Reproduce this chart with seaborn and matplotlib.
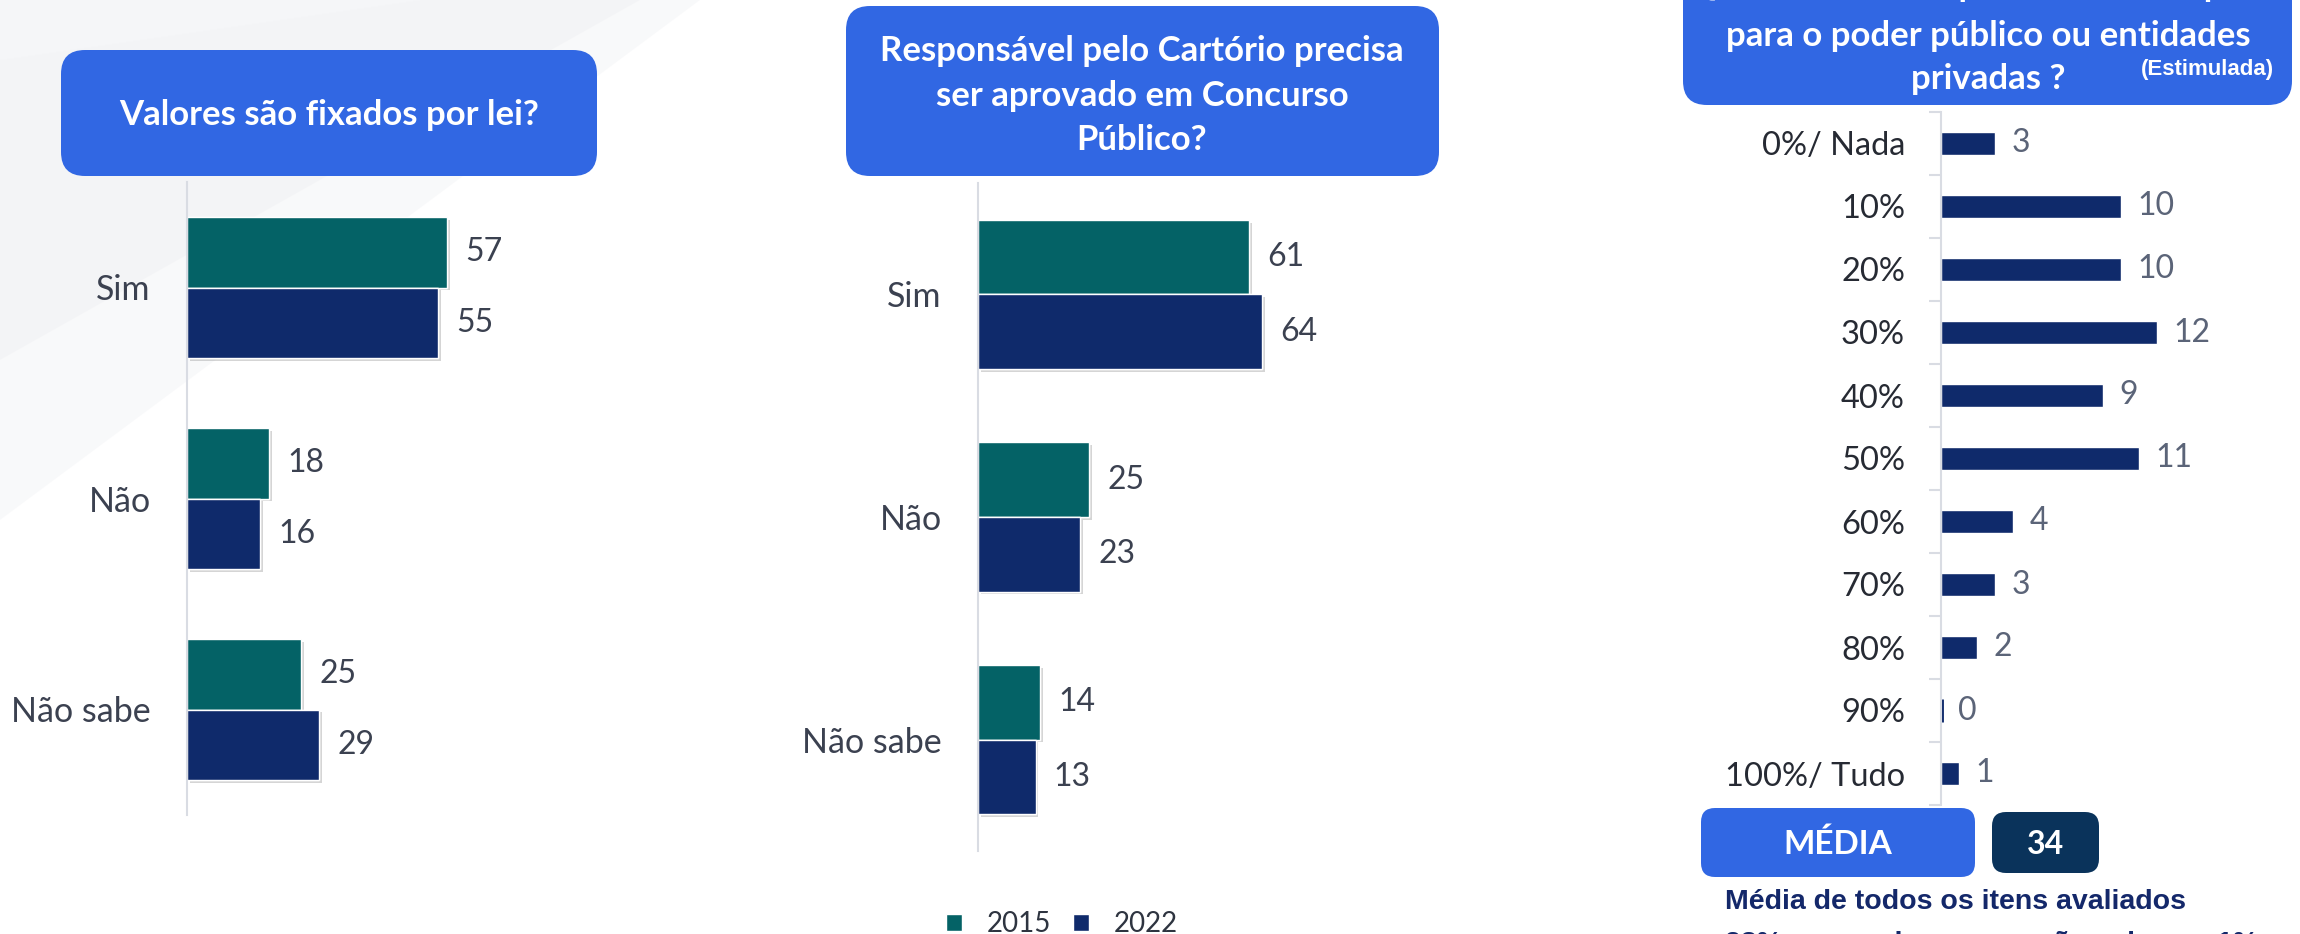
import matplotlib
matplotlib.use("Agg")
import numpy as np
import pandas as pd
import matplotlib.pyplot as plt
import matplotlib.patheffects as pe
from matplotlib.patches import FancyBboxPatch, Polygon, Patch
import seaborn as sns

# ---- data -------------------------------------------------------------
respostas = ["Sim", "Não", "Não sabe"]
anos = ["2015", "2022"]

fixados_2015 = [57, 18, 25]
fixados_2022 = [55, 16, 29]

concurso_2015 = [61, 25, 14]
concurso_2022 = [64, 23, 13]

faixas = ["0%/ Nada", "10%", "20%", "30%", "40%", "50%", "60%",
          "70%", "80%", "90%", "100%/ Tudo"]
repasse = [3, 10, 10, 12, 9, 11, 4, 3, 2, 0, 1]
media_repasse = 34

titulo_fixados = "Valores são fixados por lei?"
titulo_concurso = ["Responsável pelo Cartório precisa",
                   "ser aprovado em Concurso", "Público?"]
titulo_repasse = ["Quanto do valor que o cartório repassa",
                  "para o poder público ou entidades", "privadas ?"]
nota = ["Média de todos os itens avaliados",
        "23% responderam que não sabem e 1% outros repasses"]

# ---- style ------------------------------------------------------------
TEAL = "#046266"
NAVY = "#0F2A6B"
BLUE = "#3167E3"
DARK = "#0A335B"
AXIS = "#D9DCE3"
LABEL = "#3B4150"
NARROW = ["Liberation Sans Narrow", "Liberation Sans", "DejaVu Sans"]

sns.set_theme(style="white")
plt.rcParams["font.family"] = ["Lato", "DejaVu Sans"]

W, H = 2300, 934
fig = plt.figure(figsize=(W / 100, H / 100), dpi=100, facecolor="white")

# full-figure layer in pixel units for boxes and free text
bg = fig.add_axes([0, 0, 1, 1], zorder=0)
bg.set_xlim(0, W)
bg.set_ylim(H, 0)
bg.axis("off")

# faint decorative shapes in the upper-left corner
bg.add_patch(Polygon([(0, 0), (640, 0), (0, 360)], closed=True,
                     fc="#EEF0F3", ec="none", alpha=0.55))
bg.add_patch(Polygon([(0, 60), (420, 0), (700, 0), (0, 520)], closed=True,
                     fc="#F3F4F6", ec="none", alpha=0.5))


def box(x0, y0, x1, y1, color, r=24):
    bg.add_patch(FancyBboxPatch((x0, y0), x1 - x0, y1 - y0,
                                boxstyle=f"round,pad=0,rounding_size={r}",
                                fc=color, ec="none"))


def panel(x0, y0, x1, y1):
    ax = fig.add_axes([x0 / W, 1 - y1 / H, (x1 - x0) / W, (y1 - y0) / H],
                      zorder=2)
    ax.set_facecolor("none")
    return ax


def style_axis(ax, pad):
    sns.despine(ax=ax, left=False, bottom=True)
    ax.spines["left"].set_color(AXIS)
    ax.spines["left"].set_linewidth(1.5)
    ax.set_xticks([])
    ax.set_xlabel("")
    ax.set_ylabel("")
    ax.tick_params(axis="y", length=0, pad=pad)


def title(x, y, s, size=25):
    bg.text(x, y, s, ha="center", va="baseline", color="white",
            fontsize=size, fontweight="bold")


shadow = [pe.withSimplePatchShadow(offset=(2, -2), shadow_rgbFace="#888888",
                                   alpha=0.35), pe.Normal()]


def grouped(ax, v2015, v2022, xmax):
    df = pd.DataFrame({
        "resposta": respostas * 2,
        "ano": [anos[0]] * 3 + [anos[1]] * 3,
        "valor": v2015 + v2022,
    })
    sns.barplot(data=df, x="valor", y="resposta", hue="ano", orient="h",
                palette=[TEAL, NAVY], saturation=1, width=0.67,
                errorbar=None, legend=False, ax=ax)
    for p in ax.patches:
        p.set_path_effects(shadow)
    for c in ax.containers:
        ax.bar_label(c, padding=13, fontsize=23, color=LABEL)
    ax.set_xlim(0, xmax)
    ax.set_ylim(2.5, -0.5)
    style_axis(ax, pad=26)
    for t in ax.get_yticklabels():
        t.set_fontsize(24.5)
        t.set_color(LABEL)


# ---- panel 1: valores fixados por lei ---------------------------------
box(61, 50, 597, 176, BLUE)
title(329, 125, titulo_fixados)
ax1 = panel(187, 182, 643, 815)
grouped(ax1, fixados_2015, fixados_2022, 100)

# ---- panel 2: concurso público ----------------------------------------
box(846, 6, 1439, 176, BLUE)
for y, line in zip([61, 106, 150], titulo_concurso):
    title(1142, y, line)
ax2 = panel(978, 183, 1422, 851)
grouped(ax2, concurso_2015, concurso_2022, 100)

# ---- panel 3: repasse -------------------------------------------------
box(1683, -40, 2292, 105, BLUE)
for y, line in zip([-4, 46, 89], titulo_repasse):
    title(1988, y, line)
bg.text(2207, 75, "(Estimulada)", ha="center", va="baseline", color="white",
        fontsize=16, fontweight="bold", family=NARROW)

ax3 = panel(1941, 112, 2300, 805)
df3 = pd.DataFrame({"faixa": faixas, "valor": repasse})
sns.barplot(data=df3, x="valor", y="faixa", orient="h", color=NAVY,
            saturation=1, width=0.35, errorbar=None, ax=ax3)
for p, v in zip(ax3.patches, repasse):
    if v == 0:
        p.set_edgecolor(NAVY)
        p.set_linewidth(3.5)
ax3.bar_label(ax3.containers[0], padding=12, fontsize=23, color="#5B6478")
ax3.set_xlim(0, 359 / 18)
ax3.set_ylim(len(faixas) - 0.5, -0.5)
style_axis(ax3, pad=26)
ax3.set_yticks(np.arange(-0.5, len(faixas), 1), minor=True)
ax3.tick_params(axis="y", which="minor", length=9, width=1.5, color=AXIS,
                left=True)
for t in ax3.get_yticklabels():
    t.set_fontsize(23.5)
    t.set_color("#262A33")

# average box and footnote
box(1701, 808, 1975, 877, BLUE, r=14)
bg.text(1838, 844, "MÉDIA", ha="center", va="center", color="white",
        fontsize=24, fontweight="bold")
box(1992, 812, 2099, 873, DARK, r=14)
bg.text(2046, 845, str(media_repasse), ha="center", va="center",
        color="white", fontsize=23, fontweight="bold")
for y, line in zip([902, 944], nota):
    bg.text(1725, y, line, ha="left", va="center", color="#14286A",
            fontsize=20.5, fontweight="bold", family=NARROW)

# ---- shared legend ----------------------------------------------------
fig.legend([Patch(facecolor=TEAL), Patch(facecolor=NAVY)], anos,
           loc="center", bbox_to_anchor=(1062 / W, 1 - 924 / H), ncol=2,
           frameon=False, fontsize=20, handlelength=0.55, handleheight=0.55,
           handletextpad=0.9, columnspacing=0.8, labelcolor="#2E3440")

fig.savefig("out.png", dpi=100, facecolor="white")
